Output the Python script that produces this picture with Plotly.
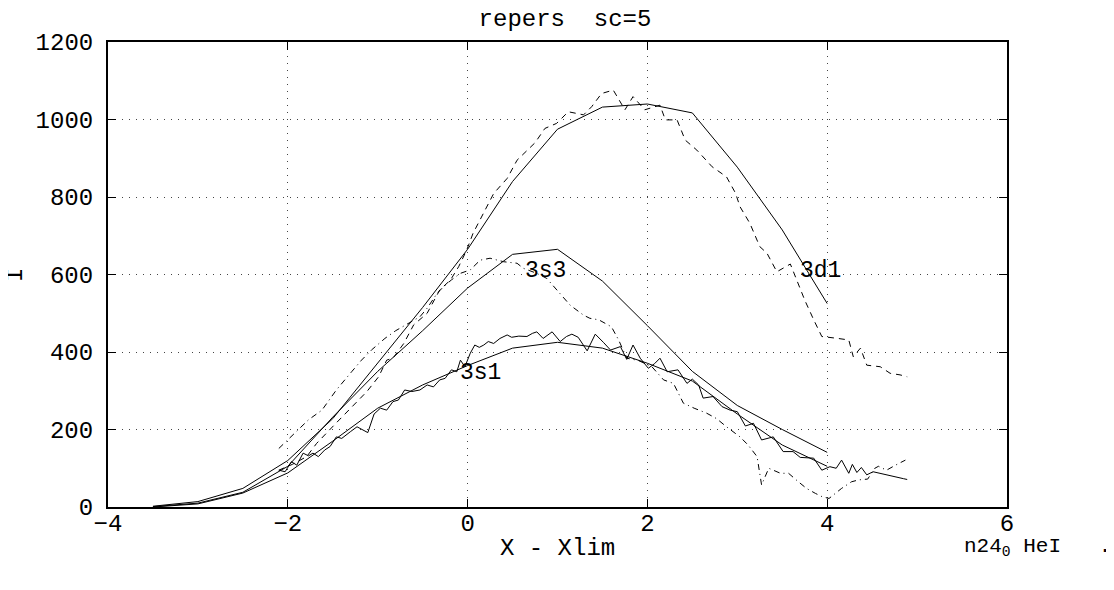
import plotly.graph_objects as go

# model curves (solid), step 0.5
x_mod = [-3.5, -3.0, -2.5, -2.0, -1.5, -1.0, -0.5, 0.0, 0.5, 1.0, 1.5, 2.0, 2.5, 3.0, 3.5, 4.0]
d1_mod = [2, 14, 48, 120, 228, 370, 515, 665, 840, 975, 1032, 1040, 1017, 877, 715, 525]
s3_mod = [1, 10, 38, 105, 232, 350, 455, 565, 652, 665, 583, 468, 350, 262, 200, 141]
s1_mod = [0, 8, 36, 88, 170, 255, 315, 365, 410, 425, 410, 371, 325, 240, 160, 105]

# 3s1 measured (solid, noisy)
x_s1 = [-2.10, -2.03, -1.96, -1.90, -1.83, -1.77, -1.72, -1.66, -1.59, -1.53, -1.46, -1.40,
        -1.30, -1.23, -1.11, -1.04, -0.97, -0.90, -0.83, -0.77, -0.70, -0.62, -0.53, -0.45,
        -0.38, -0.31, -0.25, -0.18, -0.12, -0.08, -0.03, 0.03, 0.08, 0.13, 0.18, 0.23, 0.29,
        0.36, 0.44, 0.49, 0.57, 0.66, 0.72, 0.77, 0.84, 0.94, 1.03, 1.10, 1.16, 1.23, 1.33,
        1.42, 1.51, 1.59, 1.70, 1.77, 1.84, 1.92, 2.01, 2.08, 2.14, 2.22, 2.34, 2.44, 2.50,
        2.57, 2.62, 2.73, 2.83, 2.92, 3.00, 3.09, 3.18, 3.27, 3.40, 3.51, 3.62, 3.70, 3.85,
        3.94, 4.03, 4.10, 4.16, 4.24, 4.28, 4.33, 4.38, 4.44, 4.51, 4.59, 4.66, 4.72, 4.79,
        4.85, 4.89]
y_s1 = [95, 91, 117, 108, 139, 132, 139, 130, 147, 156, 181, 177,
        195, 207, 192, 240, 255, 250, 272, 276, 302, 298, 302, 315,
        310, 328, 332, 354, 349, 379, 362, 397, 418, 412, 418, 427, 422,
        435, 444, 438, 441, 440, 448, 452, 435, 452, 427, 440, 446, 438, 403,
        446, 425, 405, 414, 381, 418, 384, 358, 370, 384, 349, 354, 319, 330,
        315, 281, 285, 259, 250, 246, 209, 216, 173, 181, 143, 143, 128, 126,
        95, 104, 100, 121, 87, 110, 89, 102, 83, 91, 87, 83, 80, 78,
        73, 71]

# 3s3 measured (dash-dot)
x_s3 = [-2.10, -1.92, -1.77, -1.62, -1.46, -1.29, -1.18, -1.07, -0.92, -0.80, -0.65, -0.53,
        -0.45, -0.34, -0.27, -0.18, -0.08, 0.03, 0.14, 0.25, 0.40, 0.55, 0.62, 0.77, 0.88,
        1.03, 1.14, 1.29, 1.36, 1.46, 1.60, 1.68, 1.77, 1.90, 2.05, 2.18, 2.29, 2.40, 2.52,
        2.66, 2.77, 2.88, 3.03, 3.12, 3.22, 3.27, 3.35, 3.48, 3.57, 3.68, 3.77, 3.87, 3.94,
        4.02, 4.11, 4.16, 4.27, 4.35, 4.45, 4.53, 4.57, 4.66, 4.76, 4.87]
y_s3 = [151, 190, 225, 250, 302, 349, 379, 405, 435, 455, 475, 491,
        513, 551, 568, 586, 603, 612, 637, 642, 633, 629, 616, 603, 590,
        551, 521, 495, 487, 483, 465, 431, 384, 378, 362, 328, 319, 268, 255,
        242, 228, 207, 181, 160, 130, 57, 100, 87, 87, 65, 48, 35, 27,
        22, 40, 48, 65, 70, 72, 100, 105, 95, 108, 121]

# 3d1 measured (dashed)
x_d1 = [-2.10, -1.95, -1.79, -1.68, -1.49, -1.34, -1.20, -1.12, -0.99, -0.90, -0.83, -0.71,
        -0.60, -0.45, -0.31, -0.19, -0.10, -0.01, 0.06, 0.18, 0.29, 0.44, 0.55, 0.75, 0.86,
        0.99, 1.12, 1.29, 1.38, 1.49, 1.62, 1.75, 1.84, 1.97, 2.14, 2.20, 2.33, 2.42, 2.55,
        2.72, 2.88, 2.98, 3.03, 3.14, 3.25, 3.33, 3.44, 3.59, 3.68, 3.75, 3.85, 3.94, 4.12,
        4.24, 4.29, 4.37, 4.44, 4.59, 4.70, 4.81, 4.89]
y_d1 = [95, 110, 130, 164, 210, 246, 280, 298, 336, 379, 384, 422,
        470, 500, 560, 586, 620, 663, 706, 758, 809, 848, 895, 940, 977,
        990, 1020, 1012, 1033, 1067, 1076, 1025, 1059, 1025, 1037, 999, 999, 947, 921,
        878, 852, 810, 775, 732, 672, 655, 607, 627, 573, 534, 483, 440, 435,
        431, 388, 410, 366, 362, 345, 341, 336]

labels = ["3s3", "3d1", "3s1"]
label_x = [0.62, 3.68, -0.11]
label_y = [610, 610, 345]

font = "Liberation Mono, Courier New, monospace"
line = dict(color="black", width=1)

fig = go.Figure()
for ym in [d1_mod, s3_mod, s1_mod]:
    fig.add_trace(go.Scatter(x=x_mod, y=ym, mode="lines", line=line))
fig.add_trace(go.Scatter(x=x_s1, y=y_s1, mode="lines", line=line))
fig.add_trace(go.Scatter(x=x_s3, y=y_s3, mode="lines",
                         line=dict(color="black", width=1, dash="6px,4px,1px,4px")))
fig.add_trace(go.Scatter(x=x_d1, y=y_d1, mode="lines",
                         line=dict(color="black", width=1, dash="6px,5px")))

for t, lx, ly in zip(labels, label_x, label_y):
    fig.add_annotation(x=lx, y=ly, xref="x", yref="y", text=t, showarrow=False,
                       xanchor="left", yanchor="middle", font=dict(size=23, color="black"))

fig.add_annotation(x=0.5, y=-0.09, xref="paper", yref="paper", text="X - Xlim",
                   showarrow=False, xanchor="center", yanchor="middle", font=dict(size=24))
fig.add_annotation(x=-0.103, y=0.5, xref="paper", yref="paper", text="I", textangle=-90,
                   showarrow=False, xanchor="center", yanchor="middle", font=dict(size=24))
fig.add_annotation(x=0.95, y=-0.088, xref="paper", yref="paper",
                   text="n24<sub>0</sub>\u00a0HeI\u00a0\u00a0\u00a0.",
                   showarrow=False, xanchor="left", yanchor="middle", font=dict(size=21))

axis = dict(showline=True, linecolor="black", linewidth=2, mirror="ticks",
            ticks="inside", ticklen=8, tickcolor="black", tickwidth=1,
            showgrid=True, gridcolor="#444", gridwidth=1, griddash="1px,6px",
            zeroline=False, tickfont=dict(size=24, color="black"))

fig.update_layout(
    width=1114, height=590,
    margin=dict(l=100, r=115, t=34, b=91),
    paper_bgcolor="white", plot_bgcolor="white",
    showlegend=False,
    font=dict(family=font, color="black"),
    title=dict(text="repers\u00a0\u00a0sc=5", x=0.5, xanchor="center", y=0.983, yanchor="middle",
               font=dict(size=24)),
    xaxis=dict(axis, range=[-4, 6], dtick=2, ticklabelstandoff=-7),
    yaxis=dict(axis, range=[0, 1200], dtick=200, ticklabelstandoff=8),
)

fig.write_html("out.html")
